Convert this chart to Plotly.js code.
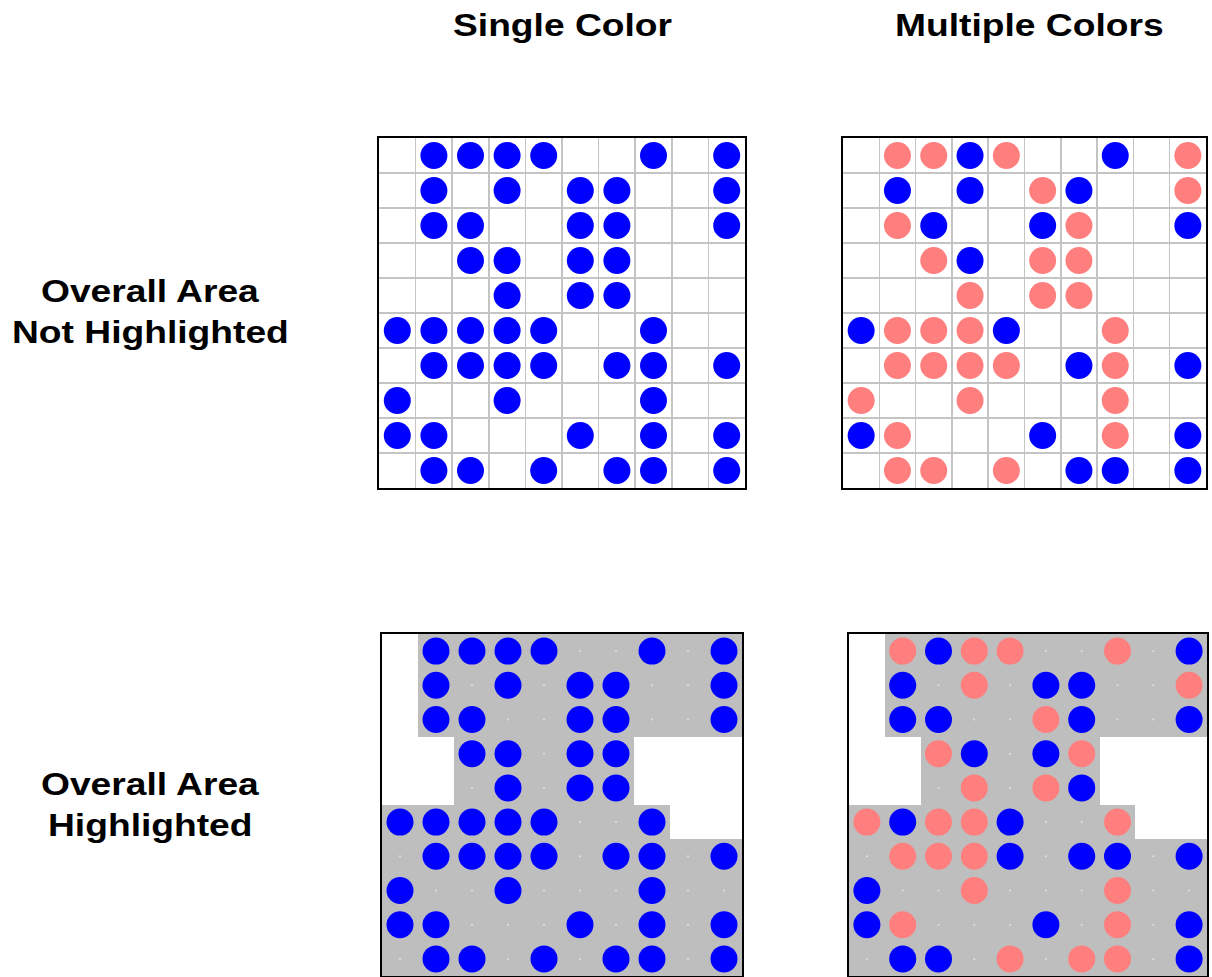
<!DOCTYPE html>
<html>
<head>
<meta charset="utf-8">
<script src="https://cdn.plot.ly/plotly-3.0.1.min.js"></script>
<style>
  html, body { margin: 0; padding: 0; background: #ffffff; }
  #chart { width: 1212px; height: 977px; }
  .annotation-text { transform-box: fill-box; transform-origin: center; transform: scaleX(1.2); }
</style>
</head>
<body>
<div id="chart"></div>
<script>
// ---- data ----
const colTitles = ["Single Color", "Multiple Colors"];
const rowTitlesTop = ["Overall Area", "Not Highlighted"];
const rowTitlesBottom = ["Overall Area", "Highlighted"];
const gridCols = [1, 2, 3, 4, 5, 6, 7, 8, 9, 10];
const gridRows = [1, 2, 3, 4, 5, 6, 7, 8, 9, 10];

// B = blue dot, P = pink dot, . = empty cell (row 1 = top)
const singleColorGrid = [
  ".BBBB..B.B",
  ".B.B.BB..B",
  ".BB..BB..B",
  "..BB.BB...",
  "...B.BB...",
  "BBBBB..B..",
  ".BBBB.BB.B",
  "B..B...B..",
  "BB...B.B.B",
  ".BB.B.BB.B"
];
const multiColorGridTop = [
  ".PPBP..B.P",
  ".B.B.PB..P",
  ".PB..BP..B",
  "..PB.PP...",
  "...P.PP...",
  "BPPPB..P..",
  ".PPPP.BP.B",
  "P..P...P..",
  "BP...B.P.B",
  ".PP.P.BB.B"
];
const multiColorGridBottom = [
  ".PBPP..P.B",
  ".B.P.BB..P",
  ".BB..PB..B",
  "..PB.BP...",
  "...P.PB...",
  "PBPPB..P..",
  ".PPPB.BB.B",
  "B..P...P..",
  "BP...B.P.B",
  ".BB.P.PP.B"
];
// X = cell inside the highlighted overall area
const highlightArea = [
  ".XXXXXXXXX",
  ".XXXXXXXXX",
  ".XXXXXXXXX",
  "..XXXXX...",
  "..XXXXX...",
  "XXXXXXXX..",
  "XXXXXXXXXX",
  "XXXXXXXXXX",
  "XXXXXXXXXX",
  "XXXXXXXXXX"
];

// ---- styles ----
const dotColors = { B: "#0000FF", P: "#FF7F7F" };
const areaColor = "#BEBEBE";
const gridColor = "#C4C4C4";
const dotSize = 27;

function dotsTrace(grid, xa, ya) {
  const x = [], y = [], c = [];
  grid.forEach((row, r) => {
    row.split("").forEach((ch, k) => {
      if (dotColors[ch]) { x.push(gridCols[k]); y.push(gridRows[r]); c.push(dotColors[ch]); }
    });
  });
  return { type: "scatter", mode: "markers", x, y, xaxis: xa, yaxis: ya,
    marker: { size: dotSize, color: c, line: { width: 0 } }, hoverinfo: "x+y" };
}
function areaTrace(xa, ya) {
  const z = highlightArea.map(row => row.split("").map(ch => ch === "X" ? 1 : null));
  return { type: "heatmap", x: gridCols, y: gridRows, z, xaxis: xa, yaxis: ya,
    colorscale: [[0, areaColor], [1, areaColor]], showscale: false, hoverinfo: "skip" };
}
function emptySpecks(grid, xa, ya) {
  const x = [], y = [];
  highlightArea.forEach((row, r) => {
    row.split("").forEach((ch, k) => {
      if (ch === "X" && grid[r][k] === ".") { x.push(gridCols[k]); y.push(gridRows[r]); }
    });
  });
  return { type: "scatter", mode: "markers", x, y, xaxis: xa, yaxis: ya,
    marker: { size: 2, color: "#E2E2E2" }, hoverinfo: "skip" };
}

const traces = [
  dotsTrace(singleColorGrid, "x", "y"),
  dotsTrace(multiColorGridTop, "x2", "y2"),
  areaTrace("x3", "y3"),
  emptySpecks(singleColorGrid, "x3", "y3"),
  dotsTrace(singleColorGrid, "x3", "y3"),
  areaTrace("x4", "y4"),
  emptySpecks(multiColorGridBottom, "x4", "y4"),
  dotsTrace(multiColorGridBottom, "x4", "y4")
];

const W = 1212, H = 977;
const px = v => v / W, py = v => 1 - v / H;
const boundaries = [1.5, 2.5, 3.5, 4.5, 5.5, 6.5, 7.5, 8.5, 9.5];

function xAxis(l, r, grid, anchor) {
  return { domain: [px(l), px(r)], range: [0.5, 10.5], tickvals: boundaries, anchor,
    showticklabels: false, ticks: "", showgrid: grid, gridcolor: gridColor, gridwidth: 1.5,
    zeroline: false, showline: true, mirror: true, linecolor: "#000000", linewidth: 2, fixedrange: true };
}
function yAxis(t, b, grid, anchor) {
  return { domain: [py(b), py(t)], range: [10.5, 0.5], tickvals: boundaries, anchor,
    showticklabels: false, ticks: "", showgrid: grid, gridcolor: gridColor, gridwidth: 1.5,
    zeroline: false, showline: true, mirror: true, linecolor: "#000000", linewidth: 2, fixedrange: true };
}

const titleFont = { family: "Liberation Sans, Arial, sans-serif", size: 31, color: "#000000", weight: "bold" };
function label(text, xPix, yPix) {
  return { text, x: px(xPix), y: py(yPix), xref: "paper", yref: "paper",
    xanchor: "center", yanchor: "middle", showarrow: false, font: titleFont };
}

const annotations = [
  label(colTitles[0], 562, 25),
  label(colTitles[1], 1029, 25),
  label(rowTitlesTop[0], 150, 291),
  label(rowTitlesTop[1], 150, 332),
  label(rowTitlesBottom[0], 150, 784),
  label(rowTitlesBottom[1], 150, 825)
];

const layout = {
  width: W, height: H, margin: { l: 0, r: 0, t: 0, b: 0 },
  paper_bgcolor: "#ffffff", plot_bgcolor: "#ffffff", showlegend: false,
  xaxis: xAxis(379, 745, true, "y"), yaxis: yAxis(138, 488, true, "x"),
  xaxis2: xAxis(843, 1206, true, "y2"), yaxis2: yAxis(138, 488, true, "x2"),
  xaxis3: xAxis(382, 742, false, "y3"), yaxis3: yAxis(634, 976, false, "x3"),
  xaxis4: xAxis(849, 1207, false, "y4"), yaxis4: yAxis(634, 976, false, "x4"),
  annotations
};

Plotly.newPlot("chart", traces, layout, { displayModeBar: false, staticPlot: true });
</script>
</body>
</html>
